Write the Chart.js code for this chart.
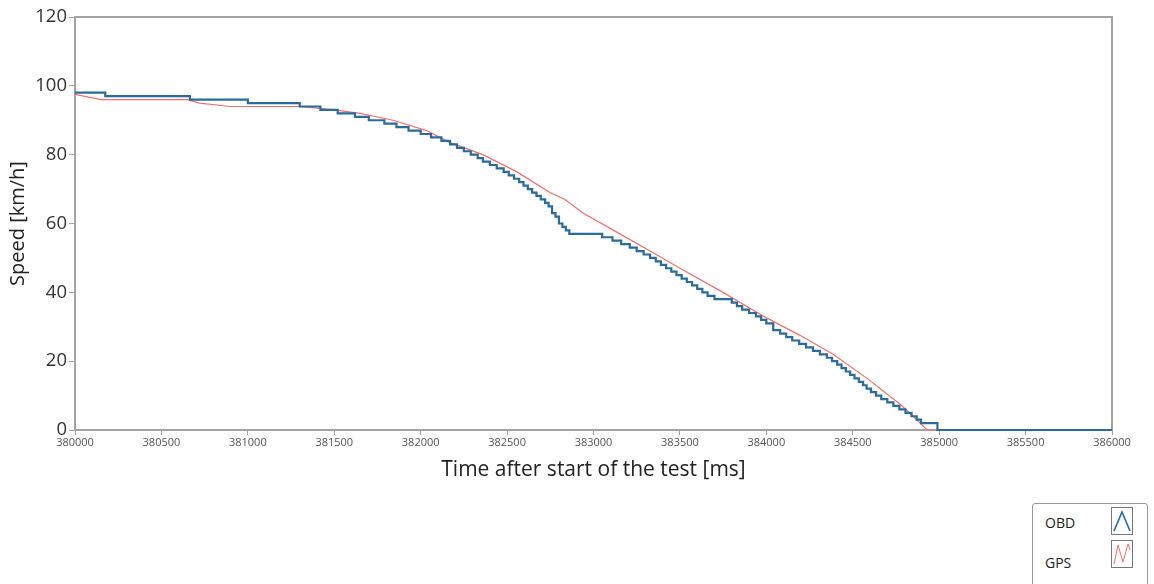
<!DOCTYPE html>
<html>
<head>
<meta charset="utf-8">
<script src="https://cdn.jsdelivr.net/npm/chart.js@4.4.0/dist/chart.umd.min.js"></script>
<style>
  html, body { margin: 0; padding: 0; background: #fff; }
  #wrap { position: relative; width: 1154px; height: 584px; }
  #legend {
    position: absolute; left: 1032px; top: 503px; width: 114px; height: 90px;
    border: 1px solid #9a9a9a; border-radius: 3px; background: #fff;
    font-family: "Open Sans", sans-serif; font-size: 14px; color: #222;
  }
  .row { position: absolute; left: 12px; width: 100px; height: 28px; }
  .row span { position: absolute; left: 0; }
  .row svg { position: absolute; left: 66px; top: 0; }
</style>
</head>
<body>
<div id="wrap">
  <canvas id="speedChart" width="1154" height="584"></canvas>
  <div id="legend">
    <div class="row" style="top:3px"><span style="top:6px">OBD</span>
      <svg width="22" height="28"><rect x="0.5" y="0.5" width="21" height="27" fill="#fff" stroke="#777"/>
      <polyline points="3,24 11,5 19,24" fill="none" stroke="#2a6b9c" stroke-width="1.6"/></svg></div>
    <div class="row" style="top:36px"><span style="top:13px">GPS</span>
      <svg width="22" height="28"><rect x="0.5" y="0.5" width="21" height="27" fill="#fff" stroke="#777"/>
      <polyline points="3,24 7,5 12,22 17,4 19,10" fill="none" stroke="#f07070" stroke-width="1"/></svg></div>
  </div>
</div>
<script>
// OBD speed changes (time of change, new value), drawn as steps
const obdTime = [380000, 380175, 380665, 381000, 381300, 381420, 381520, 381620, 381700, 381790,
  381860, 381930, 382000, 382060, 382120, 382170, 382210, 382250, 382290, 382330,
  382360, 382400, 382440, 382480, 382510, 382540, 382570, 382595, 382620, 382645,
  382670, 382695, 382720, 382740, 382760, 382780, 382800, 382820, 382840, 382860,
  383050, 383110, 383160, 383210, 383250, 383290, 383327, 383360, 383390, 383420,
  383450, 383480, 383510, 383540, 383570, 383600, 383630, 383660, 383700, 383800,
  383830, 383860, 383900, 383940, 383970, 384000, 384040, 384080, 384115, 384150,
  384190, 384230, 384270, 384310, 384350, 384380, 384410, 384435, 384460, 384485,
  384510, 384535, 384560, 384580, 384605, 384635, 384665, 384700, 384735, 384770,
  384805, 384840, 384870, 384895, 384990, 386000];
const obdSpeed = [98, 97, 96, 95, 94, 93, 92, 91, 90, 89,
  88, 87, 86, 85, 84, 83, 82, 81, 80, 79,
  78, 77, 76, 75, 74, 73, 72, 71, 70, 69,
  68, 67, 66, 65, 63, 62, 60, 59, 58, 57,
  56, 55, 54, 53, 52, 51, 50, 49, 48, 47,
  46, 45, 44, 43, 42, 41, 40, 39, 38, 37,
  36, 35, 34, 33, 32, 31, 29, 28, 27, 26,
  25, 24, 23, 22, 21, 20, 19, 18, 17, 16,
  15, 14, 13, 12, 11, 10, 9, 8, 7, 6,
  5, 4, 3, 2, 0, 0];

const gpsTime = [380000, 380150, 380650, 380720, 380900, 381300, 381500, 381650, 381840, 382035,
  382170, 382360, 382557, 382748, 382835, 382941, 383135, 383327, 383518, 383714,
  384004, 384195, 384386, 384583, 384774, 384860, 384930, 386000];
const gpsSpeed = [97.5, 96, 96, 95, 94, 94, 93, 92, 90, 87,
  83.5, 80, 75, 69, 67, 63, 57.5, 52, 46.5, 41,
  32.5, 27.5, 22, 15, 7.5, 3.5, 0, 0];

const yTicks = [0, 20, 40, 60, 80, 100, 120];

const toPoints = (xs, ys) => xs.map((t, i) => ({ x: t, y: ys[i] }));

const frame = {
  id: 'frame',
  beforeDatasetsDraw(chart) {
    const { ctx, chartArea: a } = chart;
    ctx.save();
    ctx.strokeStyle = '#a3a3a3';
    ctx.lineWidth = 2;
    ctx.strokeRect(a.left, a.top, a.right - a.left, a.bottom - a.top);
    ctx.restore();
  }
};

new Chart(document.getElementById('speedChart'), {
  type: 'line',
  data: {
    datasets: [
      {
        label: 'OBD',
        data: toPoints(obdTime, obdSpeed),
        borderColor: '#2a6b9c',
        borderWidth: 2.2,
        pointRadius: 0,
        stepped: 'before',
        clip: false
      },
      {
        label: 'GPS',
        data: toPoints(gpsTime, gpsSpeed),
        borderColor: '#f07070',
        borderWidth: 1.2,
        pointRadius: 0,
        tension: 0,
        clip: false
      }
    ]
  },
  options: {
    responsive: false,
    animation: false,
    layout: { padding: { top: 17, right: 42, left: 0, bottom: 0 } },
    plugins: { legend: { display: false }, tooltip: { enabled: false } },
    scales: {
      x: {
        type: 'linear',
        min: 380000,
        max: 386000,
        afterFit: s => { s.height = 154; },
        ticks: {
          stepSize: 500,
          autoSkip: false,
          maxRotation: 0,
          padding: 1,
          color: '#555',
          font: { family: 'Open Sans', size: 11 },
          callback: v => String(v)
        },
        grid: { display: true, drawOnChartArea: false, drawTicks: true, tickLength: 5, color: '#a3a3a3' },
        border: { color: '#a3a3a3', width: 2 },
        title: {
          display: true,
          text: 'Time after start of the test [ms]',
          color: '#222',
          font: { family: 'Open Sans', size: 21 },
          padding: { top: 0, bottom: 101 }
        }
      },
      y: {
        min: 0,
        max: 120,
        afterFit: s => { s.width = 75; },
        afterBuildTicks: s => { s.ticks = yTicks.map(v => ({ value: v })); },
        ticks: {
          padding: 2,
          color: '#333',
          font: { family: 'Open Sans', size: 18.5 }
        },
        grid: { display: true, drawOnChartArea: false, drawTicks: true, tickLength: 6, color: '#a3a3a3' },
        border: { color: '#a3a3a3', width: 2 },
        title: {
          display: true,
          text: 'Speed [km/h]',
          color: '#222',
          font: { family: 'Open Sans', size: 20 },
          padding: { top: 6, bottom: 0 }
        }
      }
    }
  },
  plugins: [frame]
});
</script>
</body>
</html>
